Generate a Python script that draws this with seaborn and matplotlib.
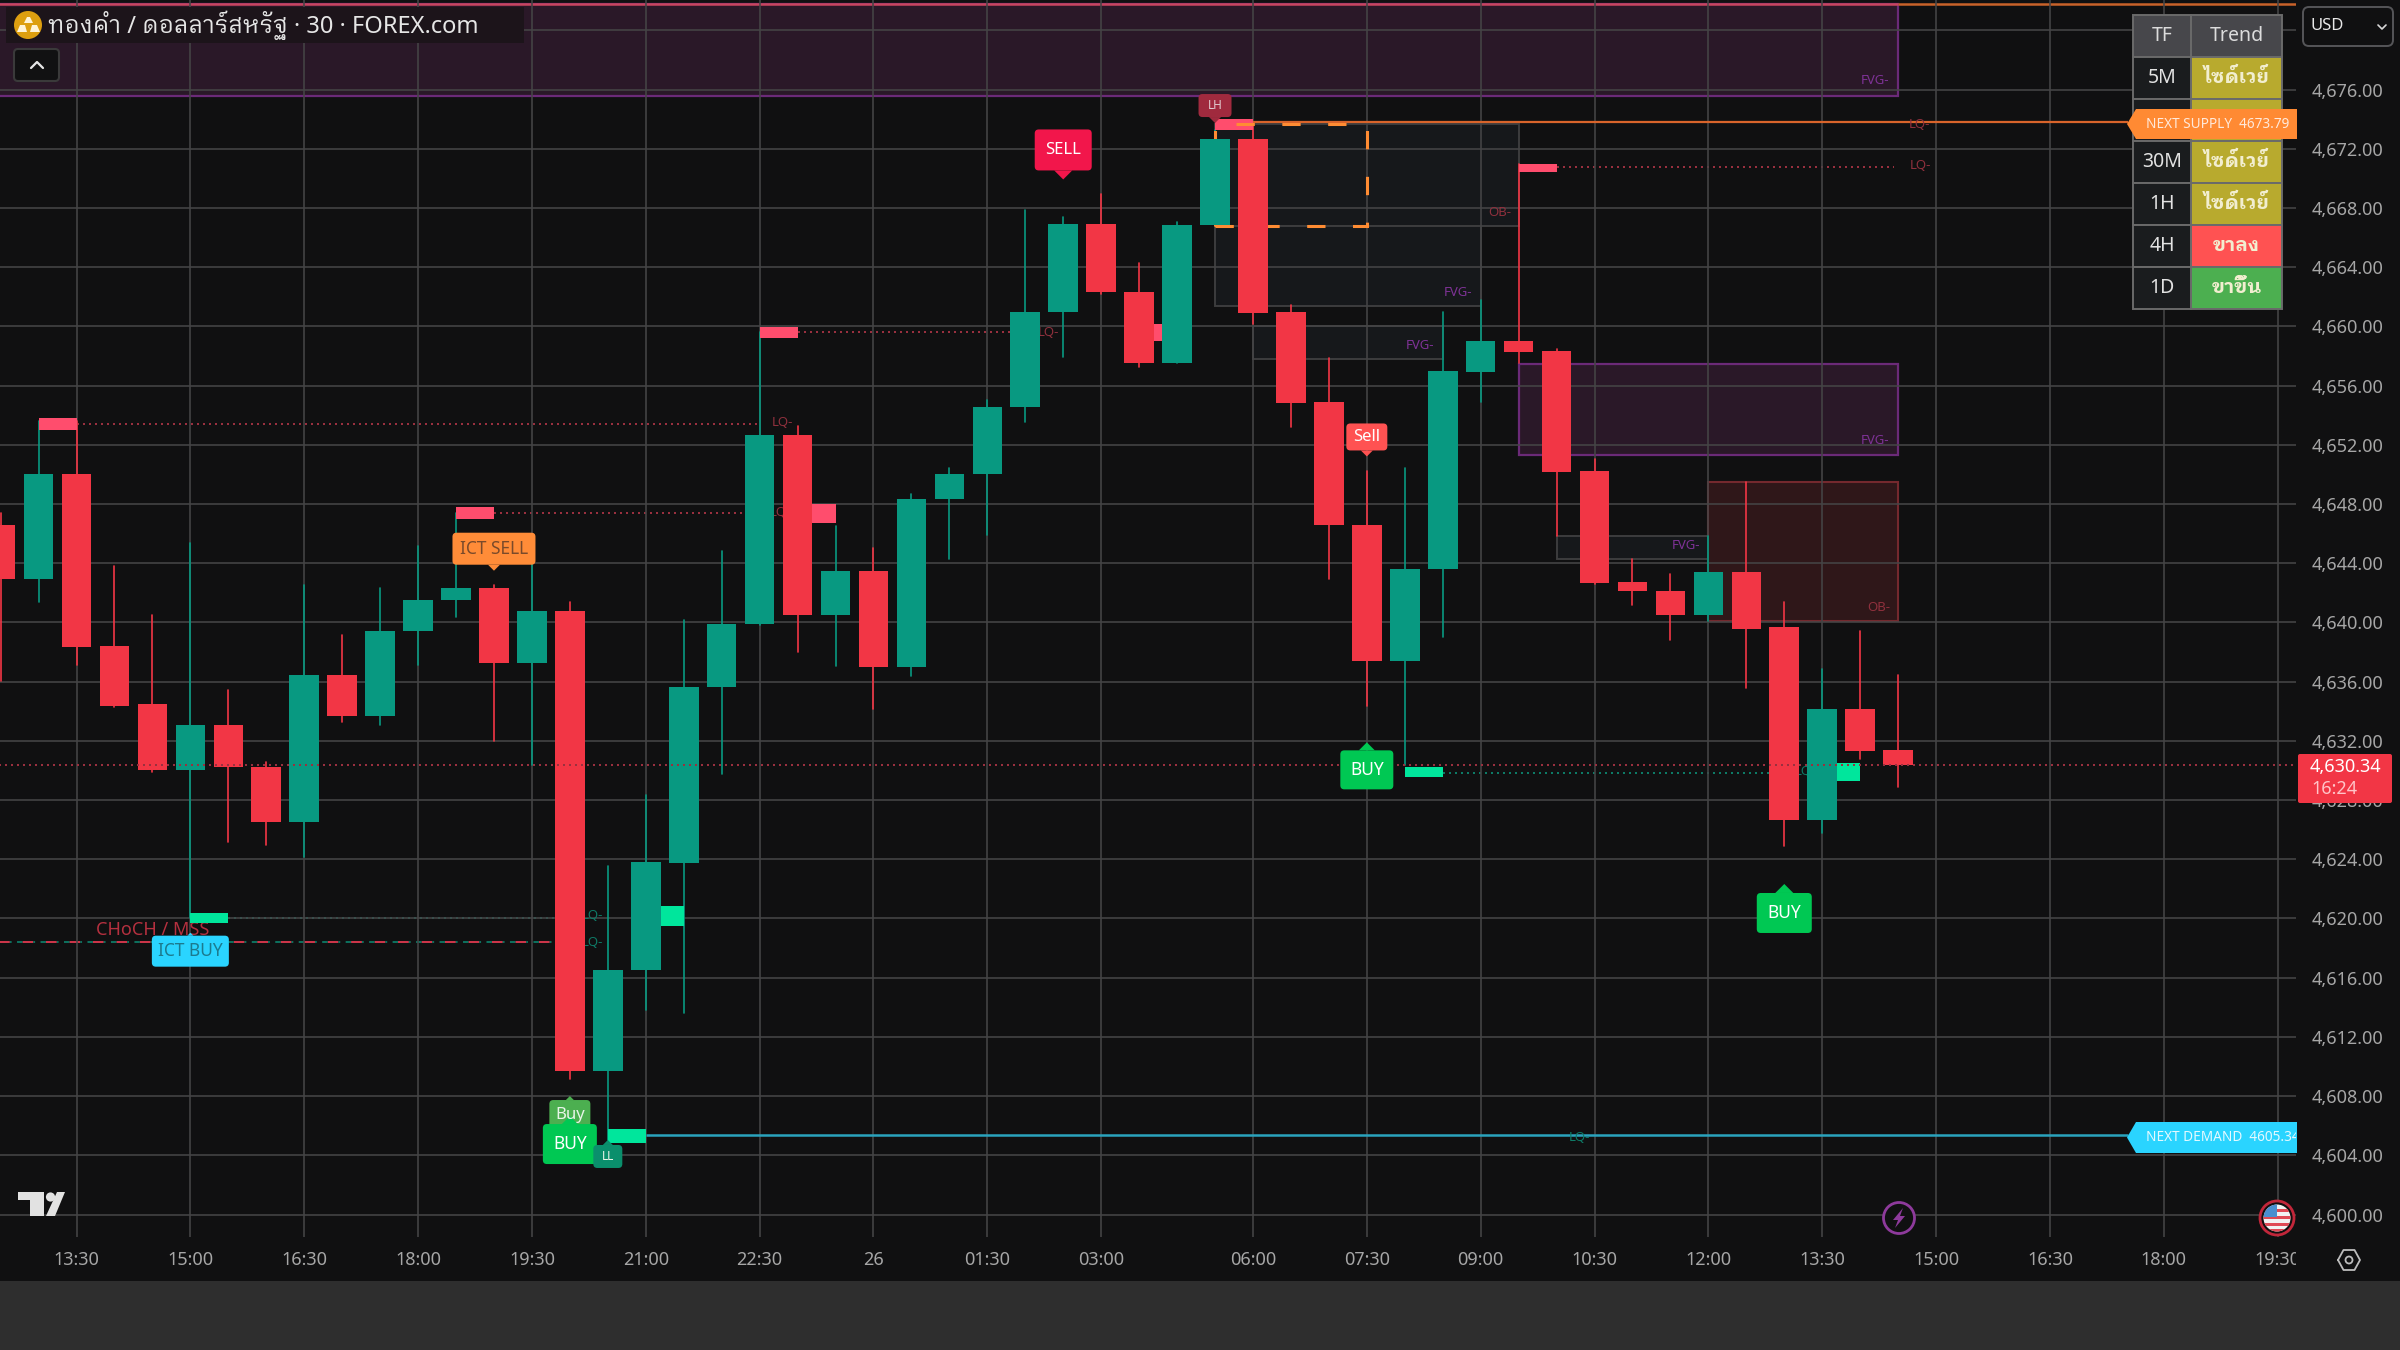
import matplotlib
matplotlib.use("Agg")
import numpy as np
import pandas as pd
import seaborn as sns
import matplotlib.pyplot as plt
from matplotlib.patches import Rectangle, FancyBboxPatch, Polygon, Circle, Ellipse
from matplotlib.transforms import Bbox

# candles (bar 0 = 13:30)
bars = list(range(-2, 49))
opens = [4646.58, 4642.96, 4650.00, 4638.41, 4634.49, 4630.04, 4633.04, 4630.25, 4626.52, 4636.45,
         4633.66, 4639.45, 4641.52, 4642.34, 4637.28, 4640.79, 4609.67, 4616.49, 4623.73, 4635.62,
         4639.86, 4652.68, 4640.48, 4643.48, 4636.97, 4648.34, 4650.00, 4654.55, 4660.96, 4666.95,
         4662.30, 4657.54, 4666.85, 4672.64, 4661.00, 4654.90, 4646.58, 4637.38, 4643.58, 4656.92,
         4658.99, 4658.37, 4650.20, 4642.76, 4642.14, 4640.48, 4643.38, 4639.66, 4626.63, 4634.18,
         4631.38]
closes = [4642.96, 4650.00, 4638.31, 4634.38, 4630.04, 4633.04, 4630.25, 4626.52, 4636.45, 4633.66,
          4639.45, 4641.52, 4642.34, 4637.28, 4640.79, 4609.67, 4616.49, 4623.84, 4635.62, 4639.86,
          4652.68, 4640.48, 4643.48, 4636.97, 4648.34, 4650.00, 4654.55, 4660.96, 4666.95, 4662.30,
          4657.54, 4666.85, 4672.64, 4660.90, 4654.80, 4646.58, 4637.38, 4643.58, 4656.97, 4658.99,
          4658.27, 4650.14, 4642.65, 4642.14, 4640.48, 4643.38, 4639.55, 4626.63, 4634.18, 4631.28,
          4630.34]
highs = [4647.41, 4653.62, 4653.62, 4643.79, 4640.48, 4645.34, 4635.42, 4630.60, 4642.55, 4639.14,
         4642.30, 4645.15, 4647.37, 4642.55, 4644.20, 4641.41, 4623.53, 4628.34, 4640.17, 4644.83,
         4659.61, 4653.30, 4646.50, 4645.03, 4648.65, 4650.41, 4655.03, 4667.88, 4667.37, 4668.92,
         4664.26, 4667.06, 4673.26, 4673.78, 4661.47, 4657.85, 4650.20, 4650.41, 4660.96, 4661.78,
         4671.00, 4658.48, 4651.03, 4644.31, 4643.27, 4645.86, 4649.48, 4641.41, 4636.86, 4639.45,
         4636.45]
lows = [4636.04, 4641.40, 4637.12, 4634.30, 4629.90, 4620.01, 4625.18, 4624.97, 4624.15, 4633.25,
        4633.04, 4637.12, 4640.38, 4632.00, 4630.35, 4609.15, 4605.02, 4613.81, 4613.60, 4629.73,
        4639.80, 4638.00, 4637.07, 4634.18, 4636.35, 4644.31, 4645.90, 4653.51, 4657.96, 4662.20,
        4657.23, 4657.50, 4666.80, 4660.13, 4653.20, 4642.96, 4634.38, 4630.35, 4639.04, 4654.90,
        4657.54, 4645.86, 4642.60, 4641.21, 4638.83, 4640.07, 4635.56, 4624.87, 4625.80, 4630.80,
        4628.90]

last_price = 4630.34
supply_level = 4673.79
demand_level = 4605.34
choch_level = 4618.40

price_ticks = [4600, 4604, 4608, 4612, 4616, 4620, 4624, 4628, 4632, 4636, 4640, 4644, 4648, 4652,
               4656, 4660, 4664, 4668, 4672, 4676, 4680]
time_bars = [0, 3, 6, 9, 12, 15, 18, 21, 24, 27, 31, 34, 37, 40, 43, 46, 49, 52, 55, 58]
time_labels = ["13:30", "15:00", "16:30", "18:00", "19:30", "21:00", "22:30", "26", "01:30", "03:00",
               "06:00", "07:30", "09:00", "10:30", "12:00", "13:30", "15:00", "16:30", "18:00", "19:30"]

# zones: bar from, bar to, low, high
purple_zones = [(-3, 48, 4675.57, 4681.78), (38, 48, 4651.34, 4657.44)]
ob_zones = [(43, 48, 4640.07, 4649.48)]
grey_zones = [(30, 38, 4666.75, 4673.67), (30, 37, 4661.37, 4666.75), (31, 36, 4657.79, 4660.03),
              (39, 43, 4644.31, 4645.86)]
# liquidity blocks: bar, low, high
pink_blocks = [(-1, 4652.98, 4653.83), (10, 4647.00, 4647.82), (18, 4659.20, 4659.95), (30, 4673.27, 4673.99),
               (38, 4670.40, 4671.00), (28, 4659.00, 4660.13), (19, 4646.69, 4648.03)]
green_blocks = [(3, 4619.70, 4620.40), (14, 4604.80, 4605.75), (15, 4619.50, 4620.85), (35, 4629.53, 4630.25),
                (46, 4629.30, 4630.50)]
# dotted liquidity lines: bar from, bar to, level
red_dots = [(0, 18, 4653.41), (11, 18.4, 4647.40), (19, 25.3, 4659.60), (39, 47.9, 4670.75)]
teal_dots = [(4, 13, 4620.00), (36, 45, 4629.83)]
# small zone tags: bar, price, text
red_tags = [(18.6, 4653.5, "LQ-"), (18.55, 4647.4, "LQ-"), (25.6, 4659.6, "LQ-"), (48.55, 4673.67, "LQ-"),
            (48.6, 4670.9, "LQ-"), (37.5, 4667.7, "OB-"), (47.5, 4641.0, "OB-")]
teal_tags = [(13.6, 4620.2, "LQ-"), (13.6, 4618.4, "LQ-"), (39.6, 4605.2, "LQ-"), (45.5, 4629.9, "LQ")]
purple_tags = [(47.4, 4676.6, "FVG-"), (47.4, 4652.3, "FVG-"), (36.4, 4662.3, "FVG-"), (35.4, 4658.7, "FVG-"),
               (42.4, 4645.2, "FVG-")]

# trend table
table_tf = ["5M", "", "30M", "1H", "4H", "1D"]
table_trend = ["ไซด์เวย์", "", "ไซด์เวย์", "ไซด์เวย์", "ขาลง", "ขาขึ้น"]
table_colors = ["#b8aa2e", "#b8aa2e", "#b8aa2e", "#b8aa2e", "#ff5252", "#4caf50"]

BG = "#101011"
GRID = "#454546"
UP = "#089981"
DOWN = "#f23645"
TICK = "#a6a6a6"

sns.set_theme(style="dark", rc={"axes.facecolor": BG, "figure.facecolor": BG, "axes.edgecolor": BG})
plt.rcParams["font.family"] = ["Noto Sans", "IBM Plex Sans Thai Looped", "DejaVu Sans"]

fig = plt.figure(figsize=(24, 13.5), dpi=100)
ax = fig.add_axes([0, (1350 - 1237) / 1350, 2296 / 2400, 1237 / 1350])

candles = pd.DataFrame({"bar": bars, "open": opens, "close": closes, "high": highs, "low": lows})
candles["side"] = np.where(candles["close"] >= candles["open"], "up", "down")
candles["base"] = candles[["open", "close"]].min(axis=1)
candles["body"] = (candles["close"] - candles["open"]).abs()

wicks = candles.melt(id_vars=["bar", "side"], value_vars=["high", "low"], value_name="price")
sns.lineplot(data=wicks, x="bar", y="price", hue="side", units="bar", estimator=None,
             palette={"up": UP, "down": DOWN}, legend=False, linewidth=1.2, ax=ax, zorder=3)

for side, col in [("up", UP), ("down", DOWN)]:
    part = candles[candles["side"] == side]
    sns.barplot(data=part, x="bar", y="body", bottom=part["base"].values, native_scale=True, color=col,
                saturation=1, width=0.78, errorbar=None, linewidth=0, zorder=4, ax=ax)

ax.set_xlim(-50 / 24.8, 1450.4 / 24.8)
ax.set_ylim(4598.48, 4682.05)
ax.set_xlabel("")
ax.set_ylabel("")
ax.set_xticks(time_bars, time_labels)
ax.set_yticks(price_ticks, [f"{t:,.2f}" if t != 4680 else "" for t in price_ticks])
ax.yaxis.tick_right()
ax.grid(True, color=GRID, linewidth=1.15, zorder=1)
ax.set_axisbelow(False)
for line in ax.get_xgridlines() + ax.get_ygridlines():
    line.set_zorder(1)
ax.tick_params(axis="x", length=0, pad=10, labelsize=13, labelcolor=TICK)
ax.tick_params(axis="y", length=0, pad=11, labelsize=13, labelcolor=TICK)
plot_clip = Bbox.from_extents(0, 0, 2296, 1350)
for lab in ax.get_xticklabels():
    lab.set_clip_on(True)
    lab.set_clip_box(plot_clip)
for spine in ax.spines.values():
    spine.set_visible(False)

# zones sit under the grid
for b0, b1, lo, hi in purple_zones:
    ax.add_patch(Rectangle((b0, lo), b1 - b0, hi - lo, fc="#2a1828", ec="#6b2a78", lw=1.6, zorder=0.5))
for b0, b1, lo, hi in ob_zones:
    ax.add_patch(Rectangle((b0, lo), b1 - b0, hi - lo, fc="#2f1719", ec="#74292e", lw=1.5, zorder=0.5))
for b0, b1, lo, hi in grey_zones:
    ax.add_patch(Rectangle((b0, lo), b1 - b0, hi - lo, fc="#16181b", ec="#3d3d3e", lw=1.4, zorder=0.5))

ax.hlines(4681.78, -3, 48, color="#c8455f", lw=1.8, zorder=2)
ax.hlines(4681.78, 48, 60, color="#c8622a", lw=1.8, zorder=2)

ax.hlines(last_price, -3, 60, color="#99303f", lw=1.44, ls=(0, (1, 2)), zorder=4.5)
for b0, b1, lv in red_dots:
    ax.hlines(lv, b0, b1, color="#99303f", lw=1.44, ls=(0, (1, 2)), zorder=2)
for b0, b1, lv in teal_dots:
    ax.hlines(lv, b0, b1, color="#0d7a66", lw=1.44, ls=(0, (1, 2)), zorder=2)

ax.hlines(choch_level, -3, 13, color="#e03a50", lw=1.3, ls=(0, (6, 7)), zorder=2)
ax.hlines(choch_level, -3, 13, color="#0d7a66", lw=1.3, ls=(7, (1, 3, 3, 6)), zorder=2)

ax.hlines(supply_level, 30, 54.05, color="#d9642b", lw=1.6, zorder=3)
ax.hlines(demand_level, 15, 54.05, color="#2aa3bd", lw=1.8, zorder=3)

# dashed box around the last supply swing
ax.add_patch(Rectangle((30, 4666.75), 4, 6.92, fc="none", ec="#ff8c33", lw=2.2, ls=(0, (6, 9)), zorder=3.6))

for b, lo, hi in pink_blocks:
    ax.add_patch(Rectangle((b, lo), 1, hi - lo, fc="#ff4d6d", ec="none", zorder=3.5))
for b, lo, hi in green_blocks:
    ax.add_patch(Rectangle((b, lo), 1, hi - lo, fc="#00e69c", ec="none", zorder=3.5))

for tags, col in [(red_tags, "#8f303d"), (teal_tags, "#0e7a66"), (purple_tags, "#7e3296")]:
    for b, p, s in tags:
        ax.text(b, p, s, color=col, fontsize=9.5, ha="center", va="center", zorder=3.4)

ax.text(2.0, 4619.2, "CHoCH / MSS", color="#b5303f", fontsize=13, ha="center", va="center", zorder=3.4)

# overlay in screen pixels for labels and chart furniture
ui = fig.add_axes([0, 0, 1, 1], zorder=5)
ui.set_xlim(0, 2400)
ui.set_ylim(1350, 0)
ui.axis("off")
ui.patch.set_alpha(0)


def to_px(b, p):
    x, y = ax.transData.transform((b, p))
    return x, 1350 - y


def signal(b, p, text, w, h, face, ink, tip, size, zo=6):
    cx, cy = to_px(b, p)
    ui.add_patch(FancyBboxPatch((cx - w / 2, cy - h / 2), w, h, boxstyle="round,pad=0,rounding_size=4",
                                fc=face, ec="none", zorder=zo))
    edge = cy + h / 2 if tip > 0 else cy - h / 2
    ui.add_patch(Polygon([(cx - abs(tip), edge), (cx + abs(tip), edge), (cx, edge + tip)], fc=face, ec="none", zorder=zo))
    ui.text(cx, cy, text, color=ink, fontsize=size, ha="center", va="center", zorder=zo + 0.1)


signal(26, 4671.92, "SELL", 57, 41, "#f2164b", "#ffffff", 9, 12)
signal(34, 4652.53, "Sell", 41, 27, "#ff5252", "#ffffff", 6, 12)
signal(11, 4644.98, "ICT SELL", 83, 32, "#ff8c38", "#7a4a2a", 6, 12.5)
signal(3, 4617.79, "ICT BUY", 77, 31, "#2ad4ff", "#1c7a8e", -3, 12.5)
signal(34, 4630.04, "BUY", 53, 39, "#00c853", "#ffffff", -8, 12.5)
signal(13, 4606.72, "Buy", 41, 30, "#4caf50", "#e8f5e8", -4, 12)
signal(13, 4604.76, "BUY", 54, 40, "#00c853", "#ffffff", -8, 12.5)
signal(14, 4603.92, "LL", 29, 23, "#0a8f6c", "#e8f5e8", -5, 8.5)
signal(45, 4620.37, "BUY", 55, 40, "#00c853", "#ffffff", -9, 12.5)
signal(30, 4674.92, "LH", 33, 23, "#a02a3e", "#e0c8cc", 6, 8.5)

# bottom strip and time-axis furniture
ui.add_patch(Rectangle((0, 1281), 2400, 69, fc="#2e2e2e", ec="none", zorder=1))

# header
ui.add_patch(Rectangle((6, 7), 518, 36, fc="#1c141a", ec="none", zorder=2))
ui.add_patch(Ellipse((28, 25), 28, 28, fc="#dd9f10", ec="none", zorder=3))
ui.add_patch(Polygon([(24, 23), (33, 23), (30, 17), (27, 17)], fc="#fff4d8", ec="none", zorder=4))
ui.add_patch(Polygon([(17, 32), (27, 32), (25, 25), (20, 25)], fc="#fff4d8", ec="none", zorder=4))
ui.add_patch(Polygon([(30, 32), (40, 32), (37, 25), (32, 25)], fc="#fff4d8", ec="none", zorder=4))
ui.text(48, 25, "ทองคำ / ดอลลาร์สหรัฐ · 30 · FOREX.com", color="#e6e6e6", fontsize=17, ha="left", va="center", zorder=4)
ui.add_patch(FancyBboxPatch((14, 49), 45, 32, boxstyle="round,pad=0,rounding_size=4", fc="#111112", ec="#3a3a3a", lw=1.5, zorder=3))
ui.plot([31, 37, 43], [68, 62, 68], color="#e6e6e6", lw=1.6, zorder=4)

# trend table
col_x = [2133, 2191, 2282]
row_y = 15
row_h = 42
ui.add_patch(Rectangle((col_x[0], row_y), col_x[1] - col_x[0], row_h, fc="#47474b", ec="#6a6a6a", lw=1.4, zorder=3))
ui.add_patch(Rectangle((col_x[1], row_y), col_x[2] - col_x[1], row_h, fc="#47474b", ec="#6a6a6a", lw=1.4, zorder=3))
ui.text((col_x[0] + col_x[1]) / 2, row_y + row_h / 2, "TF", color="#dcdcdc", fontsize=14, weight="bold", ha="center", va="center", zorder=4)
ui.text((col_x[1] + col_x[2]) / 2, row_y + row_h / 2, "Trend", color="#dcdcdc", fontsize=14, weight="bold", ha="center", va="center", zorder=4)
for i, (tf, trend, col) in enumerate(zip(table_tf, table_trend, table_colors)):
    y = row_y + row_h * (i + 1)
    ui.add_patch(Rectangle((col_x[0], y), col_x[1] - col_x[0], row_h, fc="#1a1c1e", ec="#6a6a6a", lw=1.4, zorder=3))
    ui.add_patch(Rectangle((col_x[1], y), col_x[2] - col_x[1], row_h, fc=col, ec="#6a6a6a", lw=1.4, zorder=3))
    ui.text((col_x[0] + col_x[1]) / 2, y + row_h / 2, tf, color="#e2e2e2", fontsize=14, weight="bold", ha="center", va="center", zorder=4)
    ui.text((col_x[1] + col_x[2]) / 2, y + row_h / 2, trend, color="#f2eed0", fontsize=14, weight="bold", ha="center", va="center", zorder=4)

# next supply / demand flags
for y0, y1, face, ink, text in [(109, 139, "#ff8a33", "#ffe9da", "NEXT SUPPLY  4673.79"),
                                (1122, 1153, "#2ad4ff", "#e2f9ff", "NEXT DEMAND  4605.34")]:
    ym = (y0 + y1) / 2
    ui.add_patch(Polygon([(2127, ym), (2136, y0), (2297, y0), (2297, y1), (2136, y1)], fc=face, ec="none", zorder=5))
    t = ui.text(2146, ym, text, color=ink, fontsize=9.8, ha="left", va="center", zorder=6)
    t.set_clip_on(True)
    t.set_clip_box(plot_clip)

# USD selector
ui.add_patch(FancyBboxPatch((2303, 7), 90, 39, boxstyle="round,pad=0,rounding_size=6", fc=BG, ec="#555558", lw=1.4, zorder=3))
ui.text(2310, 26, "USD", color="#e8e8e8", fontsize=12, ha="left", va="center", zorder=4)
ui.plot([2378, 2382, 2386], [25, 29, 25], color="#d8d8d8", lw=1.2, zorder=4)

# last price tag
ui.add_patch(FancyBboxPatch((2298, 754), 94, 49, boxstyle="round,pad=0,rounding_size=2", fc=DOWN, ec="none", zorder=3))
ui.text(2345, 767, "4,630.34", color="#ffffff", fontsize=13, weight="bold", ha="center", va="center", zorder=4)
ui.text(2311, 789, "16:24", color="#ffc4c8", fontsize=13, ha="left", va="center", zorder=4)

# TradingView mark
ui.add_patch(Polygon([(18, 1192), (44, 1192), (44, 1216), (30, 1216), (30, 1200), (18, 1200)], fc="#e2e2e2", ec="none", zorder=3))
ui.add_patch(Circle((50.5, 1197), 4.6, fc="#e2e2e2", ec="none", zorder=3))
ui.add_patch(Polygon([(57, 1192), (65, 1192), (55, 1216), (46, 1216)], fc="#e2e2e2", ec="none", zorder=3))

# lightning badge
ui.add_patch(Circle((1899, 1218), 15.5, fc=BG, ec="#8e3a9c", lw=2, zorder=3))
ui.add_patch(Polygon([(1903, 1208), (1893, 1220), (1898, 1220), (1895, 1228), (1905, 1216), (1900, 1216)], fc="#8e3a9c", ec="none", zorder=4))

# US flag badge
ring = Circle((2277, 1218), 17, fc=BG, ec="#c2263a", lw=2, zorder=3)
ui.add_patch(ring)
flag = Circle((2277, 1218), 13.5, fc="#f2f2f2", ec="none", zorder=4)
ui.add_patch(flag)
for sy in [1209, 1216, 1223, 1229]:
    s = Rectangle((2263, sy), 28, 3.4, fc="#e04a55", ec="none", zorder=5)
    ui.add_patch(s)
    s.set_clip_path(flag)
canton = Rectangle((2263, 1204), 14, 13, fc="#4a8fd0", ec="none", zorder=6)
ui.add_patch(canton)
canton.set_clip_path(flag)

# settings hexagon
hex_x = [2338, 2343.5, 2354.5, 2360, 2354.5, 2343.5, 2338]
hex_y = [1260, 1250, 1250, 1260, 1270, 1270, 1260]
ui.plot(hex_x, hex_y, color="#bdbdbd", lw=1.3, zorder=3)
ui.add_patch(Circle((2349, 1260), 3.5, fc="none", ec="#bdbdbd", lw=1.3, zorder=3))

fig.savefig("out.png", dpi=100, facecolor=BG)
